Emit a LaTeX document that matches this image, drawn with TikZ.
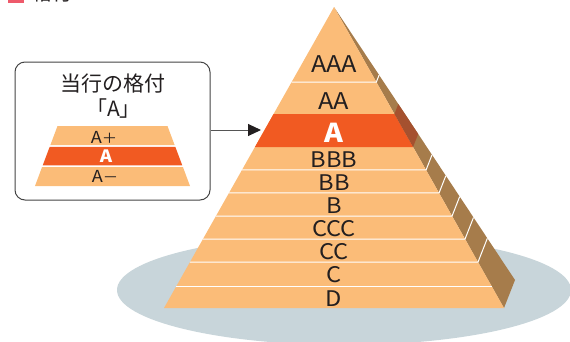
\documentclass[tikz,border=0pt]{standalone}
\usepackage{fontspec}
\setmainfont{Noto Sans CJK JP}
\newfontfamily\latf{Noto Sans CJK JP}[FakeStretch=1.1]
\usetikzlibrary{calc,arrows.meta}
\definecolor{lightor}{HTML}{FBBC78}
\definecolor{orA}{HTML}{F15A22}
\definecolor{sidebr}{HTML}{A67C4B}
\definecolor{sidedk}{HTML}{A5512F}
\definecolor{ellgray}{HTML}{C8D5DA}
\definecolor{txt}{HTML}{231F20}
\definecolor{pinkbar}{HTML}{EE5A6B}
\definecolor{boxgray}{HTML}{444444}
\definecolor{arrgray}{HTML}{555555}
\tikzset{
  biglbl/.style={anchor=base, inner sep=0pt, text=txt, font=\latf\fontsize{23}{23}\selectfont},
  lbl/.style={anchor=base, inner sep=0pt, text=txt, font=\latf\fontsize{21.5}{21.5}\selectfont},
  alabel/.style={anchor=base, inner sep=0pt, text=white, font=\latf\bfseries\fontsize{26}{26}\selectfont},
  boxtxt/.style={anchor=base, inner sep=0pt, text=txt, font=\fontsize{21}{21}\selectfont},
  minilbl/.style={anchor=base, inner sep=0pt, text=txt, font=\latf\fontsize{16.5}{16.5}\selectfont},
  miniA/.style={anchor=base, inner sep=0pt, text=white, font=\latf\bfseries\fontsize{17}{17}\selectfont},
  sep/.style={white, line width=1pt},
}
\begin{document}
\begin{tikzpicture}[x=1pt,y=-1pt]
\useasboundingbox (0,0) rectangle (570,341);
\clip (0,0) rectangle (570,341);
% heading fragment
\fill[pinkbar] (8,0) rectangle (24,3);
\begin{scope}
\clip (28,0) rectangle (80,3);
\node[anchor=base, inner sep=0pt, text=txt, font=\fontsize{20}{20}\selectfont] (head) at (52,0.5) {格付};
\end{scope}
% ground ellipse
\fill[ellgray] (344,290) ellipse [x radius=227pt, y radius=55pt];
% pyramid
\coordinate (apex) at (334,7);
\coordinate (FL) at (164,308);
\coordinate (FR) at (504,308);
\coordinate (BK) at (515,280);
\fill[sidebr] (apex) -- (FR) -- (BK) -- cycle;
\fill[lightor] (apex) -- (FL) -- (FR) -- cycle;
\fill[orA] ($(apex)!0.3555!(FL)$) -- ($(apex)!0.4651!(FL)$) -- ($(apex)!0.4651!(FR)$) -- ($(apex)!0.3555!(FR)$) -- cycle;
\fill[sidedk] ($(apex)!0.3555!(FR)$) -- ($(apex)!0.4651!(FR)$) -- ($(apex)!0.4651!(BK)$) -- ($(apex)!0.3555!(BK)$) -- cycle;
\foreach \s in {0.2492,0.5415,0.6179,0.6944,0.7708,0.8472}{
  \draw[sep] ($(apex)!\s!(FL)$) -- ($(apex)!\s!(FR)$) -- ($(apex)!\s!(BK)$);
}
\draw[sep] ($(apex)!0.9269!(FL)$) -- ($(apex)!0.9269!(FR)$);
% labels
\node[biglbl] (lAAA) at (334,72.7) {AAA};
\node[biglbl] (lAA) at (334,109) {AA};
\node[alabel] (lA) at (334,142.7) {A};
\node[lbl] (lBBB) at (334,167) {BBB};
\node[lbl] (lBB) at (334,190.7) {BB};
\node[lbl] (lB) at (334,213) {B};
\node[lbl] (lCCC) at (334,236.5) {CCC};
\node[lbl] (lCC) at (334,259.5) {CC};
\node[lbl] (lC) at (334,282.5) {C};
\node[lbl] (lD) at (334,306) {D};
% box
\node[draw=boxgray, line width=1pt, rounded corners=10pt, minimum width=195pt, minimum height=138pt, inner sep=0pt] (box) at (112.5,131) {};
\node[boxtxt] (t1) at (112.5,91) {当行の格付};
\node[boxtxt] (t2) at (113.5,116) {「A」};
% mini trapezoid
\fill[lightor] (57.5,126) -- (167.5,126) -- (174.6,145) -- (50.4,145) -- cycle;
\fill[orA] (49.7,146.8) -- (175.3,146.8) -- (182.3,165.4) -- (42.7,165.4) -- cycle;
\fill[lightor] (42,167.2) -- (183,167.2) -- (190,186) -- (35,186) -- cycle;
\node[minilbl] (mAp) at (104,143) {A{\fontsize{14}{14}\selectfont ＋}};
\node[miniA] (mA) at (106,162) {A};
\node[minilbl] (mAm) at (105,182.5) {A{\fontsize{14}{14}\selectfont －}};
% arrow
\coordinate (tgt) at (261,130);
\draw[arrgray, line width=1pt, -{Triangle[length=13pt,width=12pt,color=txt]}] (box.east |- tgt) -- (tgt);
\end{tikzpicture}
\end{document}
